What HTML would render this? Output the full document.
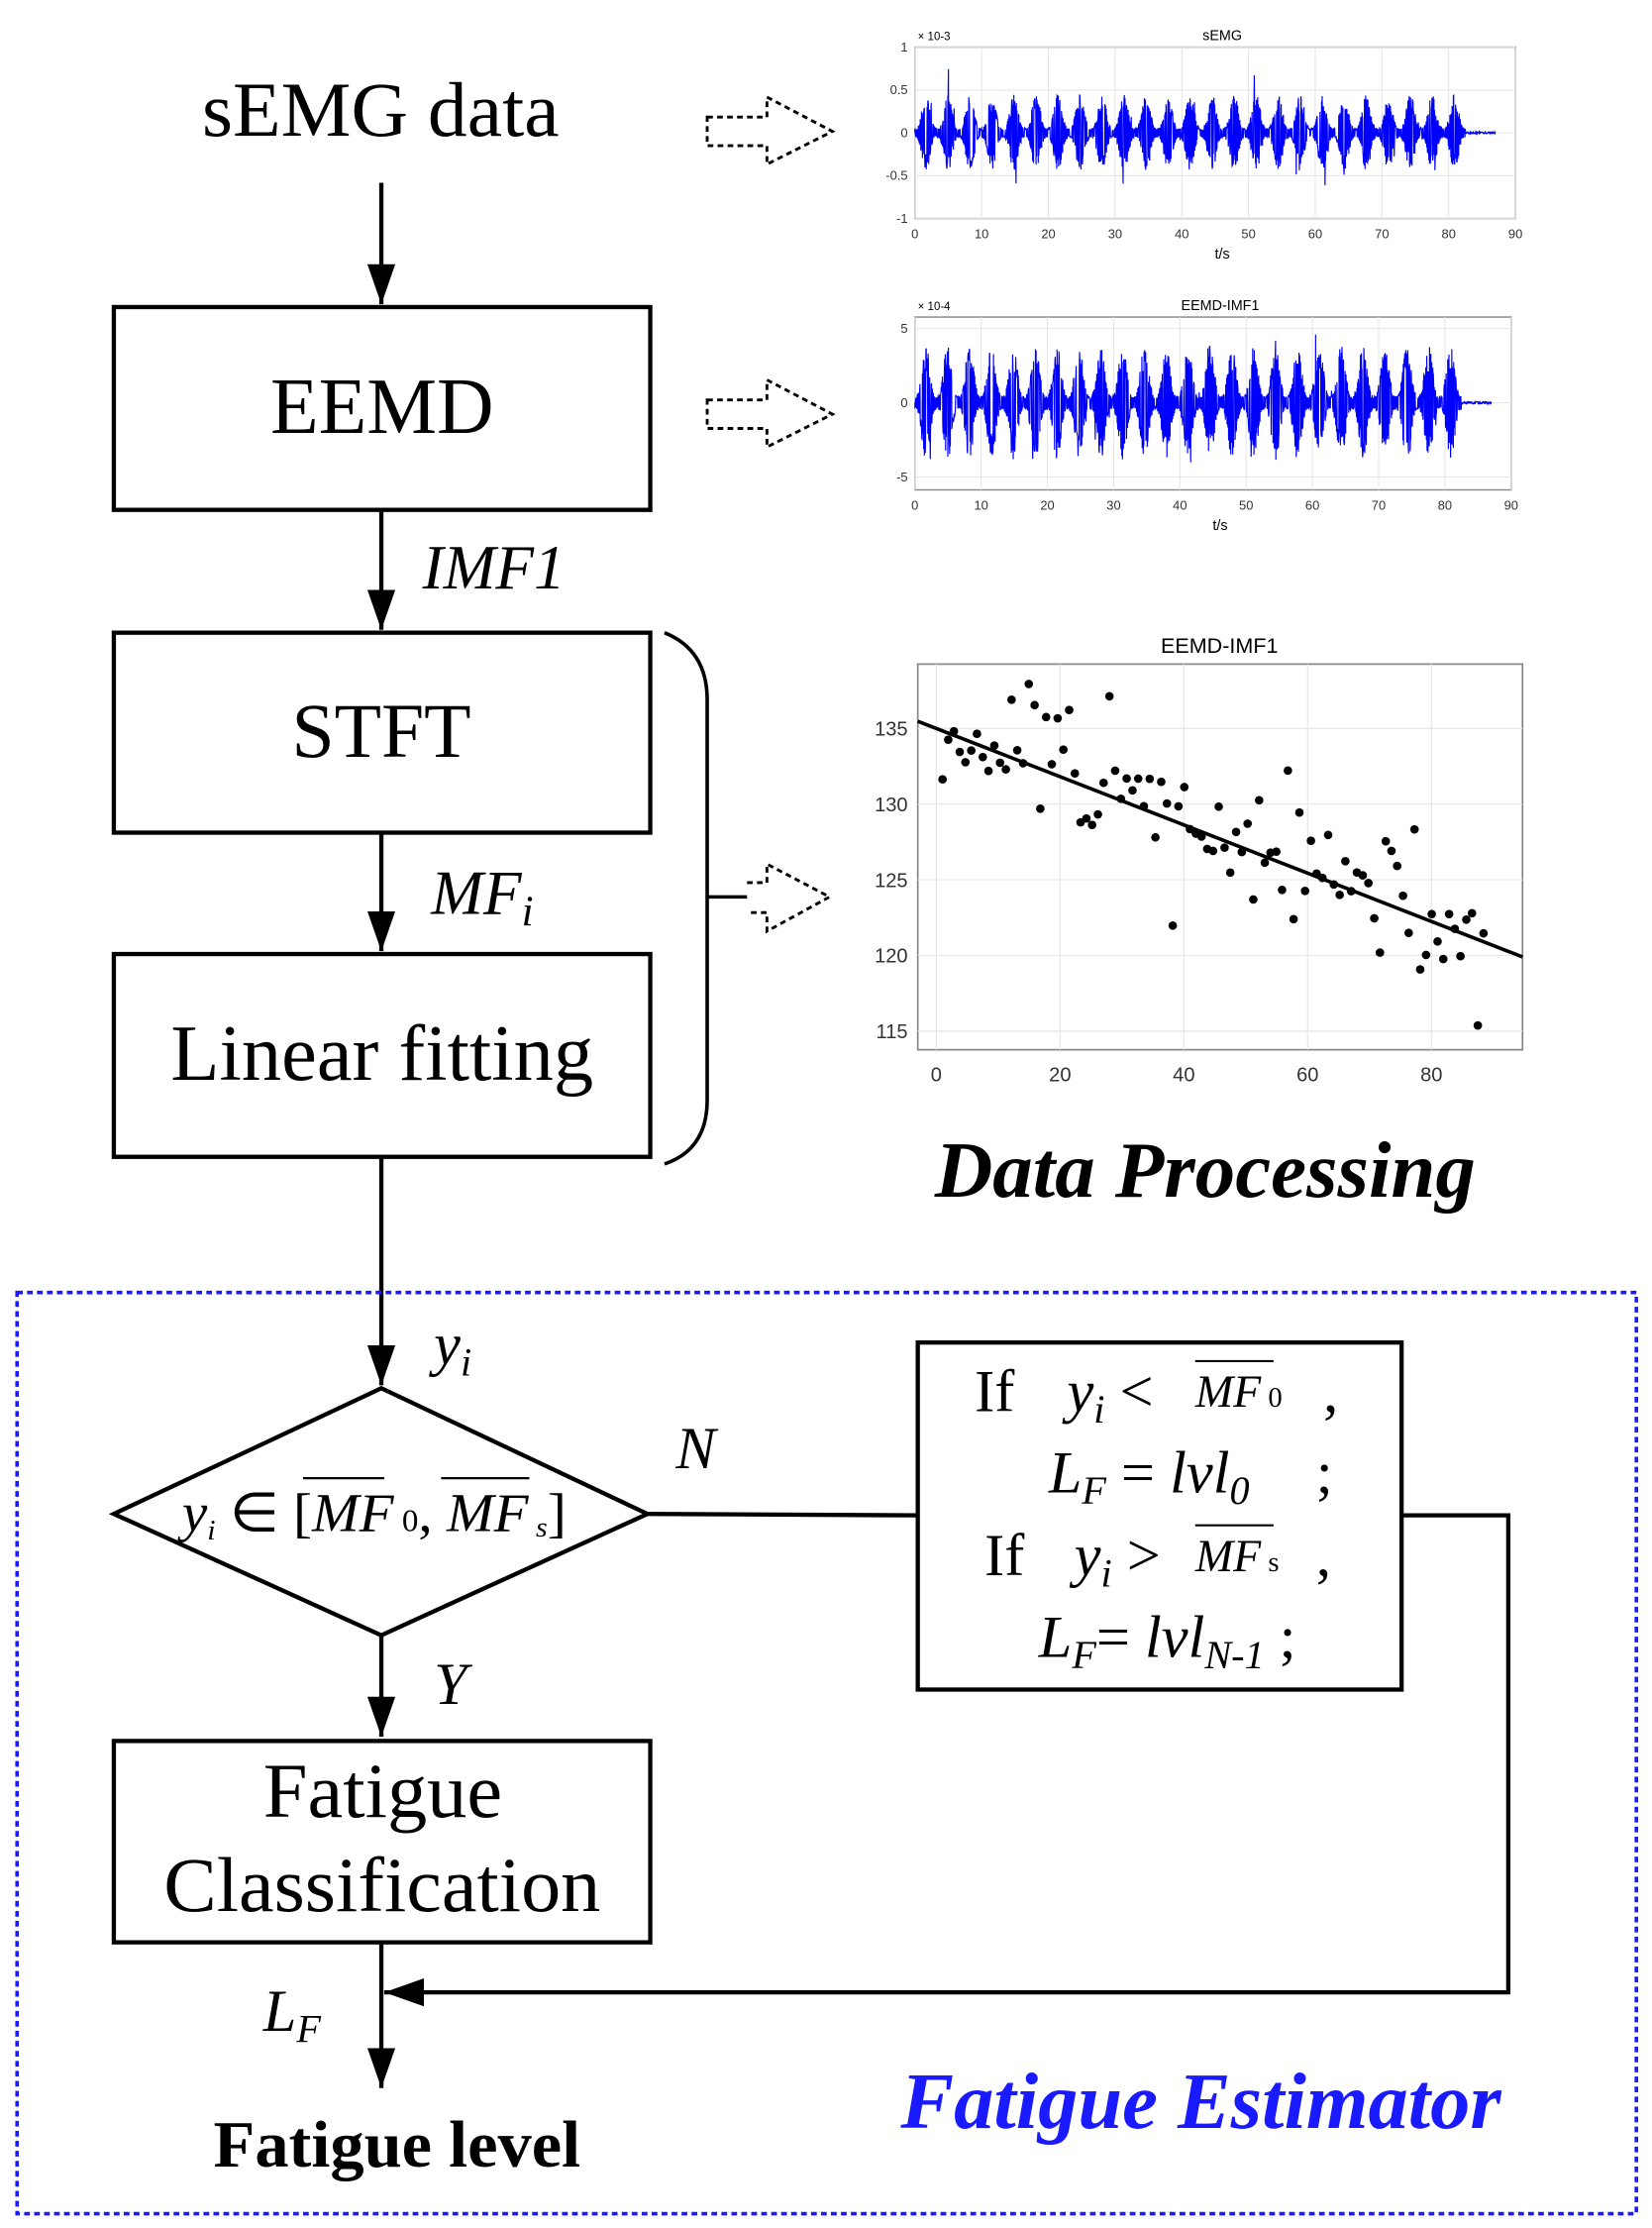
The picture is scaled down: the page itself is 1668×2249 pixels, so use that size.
<!DOCTYPE html>
<html><head><meta charset="utf-8"><style>
html,body{margin:0;padding:0;background:#fff}
svg{display:block}
.s{font-family:"Liberation Serif",serif}
.a{font-family:"Liberation Sans",sans-serif}
</style></head><body>
<svg id="svg" width="1668" height="2249" viewBox="0 0 1161 1560" preserveAspectRatio="none" xmlns="http://www.w3.org/2000/svg">
<defs>
<marker id="ah" viewBox="0 0 10 10" refX="10" refY="5" markerWidth="28" markerHeight="28" markerUnits="userSpaceOnUse" orient="auto"><path d="M0,1.5 L10,5 L0,8.5 z" fill="#000"/></marker>
</defs>
<rect width="1161" height="1560" fill="#fff"/>
<text class="s" x="142" y="95" font-size="54" textLength="251" lengthAdjust="spacingAndGlyphs">sEMG data</text>
<line x1="268" y1="128" x2="268" y2="213" stroke="#000" stroke-width="3" marker-end="url(#ah)"/>
<rect x="80" y="215" width="377" height="142" fill="none" stroke="#000" stroke-width="3"/>
<text class="s" x="190" y="303" font-size="56" textLength="157" lengthAdjust="spacingAndGlyphs">EEMD</text>
<line x1="268" y1="357" x2="268" y2="441" stroke="#000" stroke-width="3" marker-end="url(#ah)"/>
<text class="s" x="297" y="412" font-size="44" font-style="italic">IMF1</text>
<rect x="80" y="443" width="377" height="140" fill="none" stroke="#000" stroke-width="3"/>
<text class="s" x="268" y="530" font-size="54" text-anchor="middle">STFT</text>
<line x1="268" y1="583" x2="268" y2="666" stroke="#000" stroke-width="3" marker-end="url(#ah)"/>
<text class="s" x="303" y="640" font-size="44" font-style="italic">MF<tspan font-size="30" dy="8">i</tspan></text>
<rect x="80" y="668" width="377" height="142" fill="none" stroke="#000" stroke-width="3"/>
<text class="s" x="120" y="756" font-size="56" textLength="297" lengthAdjust="spacingAndGlyphs">Linear fitting</text>
<line x1="268" y1="810" x2="268" y2="970" stroke="#000" stroke-width="3" marker-end="url(#ah)"/>
<text class="s" x="305" y="955" font-size="42" font-style="italic">y<tspan font-size="28" dy="8">i</tspan></text>
<path d="M467,443 Q497,455 497,490 L497,770 Q497,805 467,815" fill="none" stroke="#000" stroke-width="2.5"/>
<line x1="497" y1="628" x2="525" y2="628" stroke="#000" stroke-width="2.5"/>
<g fill="none" stroke="#000" stroke-width="2" stroke-dasharray="4,3">
<path d="M497,82 L539,82 L539,68 L585,92 L539,115 L539,102 L497,102 Z"/>
<path d="M497,280 L539,280 L539,266 L585,290 L539,313 L539,300 L497,300 Z"/>
<path d="M525,618 L539,618 L539,605 L583,628 L539,652 L539,639 L525,639"/>
</g>
<g id="p1"></g>
<text class="s" x="657" y="838" font-size="56" font-weight="bold" font-style="italic" textLength="380" lengthAdjust="spacingAndGlyphs">Data Processing</text>
<rect x="12" y="905" width="1138" height="645" fill="none" stroke="#1a1aff" stroke-width="2.5" stroke-dasharray="4,3"/>
<path d="M268,972 L455,1060 L268,1145 L80,1060 Z" fill="none" stroke="#000" stroke-width="3"/>
<text class="s" x="128" y="1072" font-size="38" font-style="italic" textLength="270" lengthAdjust="spacingAndGlyphs">y<tspan font-size="20" dy="6">i</tspan><tspan dy="-6" font-style="normal"> ∈ [</tspan><tspan>MF</tspan><tspan font-size="22" font-style="normal"> 0</tspan><tspan font-style="normal">, </tspan><tspan>MF</tspan><tspan font-size="20" dy="4"> s</tspan><tspan dy="-4" font-style="normal">]</tspan></text>
<line x1="213" y1="1035" x2="270" y2="1035" stroke="#000" stroke-width="1.5"/>
<line x1="310" y1="1035" x2="372" y2="1035" stroke="#000" stroke-width="1.5"/>
<text class="s" x="475" y="1028" font-size="42" font-style="italic">N</text>
<line x1="455" y1="1060" x2="645" y2="1061" stroke="#000" stroke-width="3"/>
<rect x="645" y="940" width="340" height="243" fill="none" stroke="#000" stroke-width="3"/>
<g class="s" font-size="42" font-style="italic">
<text x="685" y="988"><tspan font-style="normal">If</tspan><tspan x="750">y</tspan><tspan font-size="28" dy="8">i</tspan><tspan dy="-8" font-style="normal"> &lt; </tspan></text>
<text x="840" y="985" font-size="32">MF<tspan font-size="20" font-style="normal"> 0</tspan></text>
<line x1="840" y1="953" x2="895" y2="953" stroke="#000" stroke-width="1.5"/>
<text x="930" y="988" font-style="normal">,</text>
<text x="737" y="1045">L<tspan font-size="28" dy="8">F</tspan><tspan dy="-8" font-style="normal"> = </tspan>lvl<tspan font-size="28" dy="8">0</tspan><tspan dy="-8" x="925" font-style="normal">;</tspan></text>
<text x="692" y="1103"><tspan font-style="normal">If</tspan><tspan x="755">y</tspan><tspan font-size="28" dy="8">i</tspan><tspan dy="-8" font-style="normal"> &gt; </tspan></text>
<text x="840" y="1100" font-size="32">MF<tspan font-size="20" font-style="normal"> s</tspan></text>
<line x1="840" y1="1068" x2="895" y2="1068" stroke="#000" stroke-width="1.5"/>
<text x="925" y="1103" font-style="normal">,</text>
<text x="730" y="1160">L<tspan font-size="28" dy="8">F</tspan><tspan dy="-8" font-style="normal">= </tspan>lvl<tspan font-size="28" dy="8">N-1</tspan><tspan dy="-8" font-style="normal"> ;</tspan></text>
</g>
<polyline points="985,1061 1060,1061 1060,1395 270,1395" fill="none" stroke="#000" stroke-width="3" marker-end="url(#ah)"/>
<line x1="268" y1="1145" x2="268" y2="1216" stroke="#000" stroke-width="3" marker-end="url(#ah)"/>
<text class="s" x="305" y="1193" font-size="42" font-style="italic">Y</text>
<rect x="80" y="1219" width="377" height="141" fill="none" stroke="#000" stroke-width="3"/>
<text class="s" x="185" y="1272" font-size="54" textLength="168" lengthAdjust="spacingAndGlyphs">Fatigue</text>
<text class="s" x="115" y="1338" font-size="54" textLength="307" lengthAdjust="spacingAndGlyphs">Classification</text>
<line x1="268" y1="1360" x2="268" y2="1462" stroke="#000" stroke-width="3" marker-end="url(#ah)"/>
<text class="s" x="185" y="1422" font-size="42" font-style="italic">L<tspan font-size="28" dy="8">F</tspan></text>
<text class="s" x="150" y="1517" font-size="46" font-weight="bold" textLength="258" lengthAdjust="spacingAndGlyphs">Fatigue level</text>
<text class="s" x="633" y="1490" font-size="56" font-weight="bold" font-style="italic" fill="#1a1aff" textLength="422" lengthAdjust="spacingAndGlyphs">Fatigue Estimator</text>
</svg>
<script>
(function(){
var NS="http://www.w3.org/2000/svg",g=document.getElementById("p1");
function el(t,a,txt){var e=document.createElementNS(NS,t);for(var k in a)e.setAttribute(k,a[k]);if(txt!=null)e.textContent=txt;g.appendChild(e);return e;}
var seed=7;function rnd(){seed=(seed*16807)%2147483647;return seed/2147483647;}
function sig(x0,x1,yt,yb,yc,amp,title,exp,yticks,ylabs){
 el("rect",{x:x0,y:yt,width:x1-x0,height:yb-yt,fill:"#fff",stroke:"#888","stroke-width":1});
 var w=x1-x0;
 for(var i=0;i<=9;i++){var x=x0+w*i/9;el("line",{x1:x,y1:yt,x2:x,y2:yb,stroke:"#e4e4e4","stroke-width":0.7});
  el("text",{x:x,y:yb+14,"font-size":9,"text-anchor":"middle",class:"a",fill:"#333"},String(i*10));}
 for(var j=0;j<yticks.length;j++){el("line",{x1:x0,y1:yticks[j],x2:x1,y2:yticks[j],stroke:"#e4e4e4","stroke-width":0.7});
  el("text",{x:x0-5,y:yticks[j]+3,"font-size":9,"text-anchor":"end",class:"a",fill:"#333"},ylabs[j]);}
 el("text",{x:(x0+x1)/2+5,y:yt-5,"font-size":10,"text-anchor":"middle",class:"a"},title);
 el("text",{x:x0+2,y:yt-5,"font-size":8,class:"a"},"× 10"+exp);
 el("text",{x:(x0+x1)/2+5,y:yb+28,"font-size":10,"text-anchor":"middle",class:"a"},"t/s");
 var d="M"+x0+","+yc,xe=x0+w*87/90,xs=x0+w*82.5/90;
 for(var x=x0;x<xe;x+=0.22){var t=(x-x0)/(xs-x0);var a;
  if(x>xs)a=0.02;else{var ph=(t*25)%1;a=0.12+0.88*Math.pow(Math.sin(Math.PI*ph),3);}
  var r=rnd()*2-1;var v=amp*a*(0.55*Math.sign(r)+0.45*r)*(rnd()<0.01?1.8:1);
  d+=" L"+x.toFixed(2)+","+(yc+v).toFixed(1);}
 el("path",{d:d,fill:"none",stroke:"#0000ff","stroke-width":0.8});
}
sig(643,1065,33,153,93,27,"sEMG","-3",[33,63,93,123,153],["1","0.5","0","-0.5","-1"]);
sig(643,1062,222,343,282,40,"EEMD-IMF1","-4",[230,282,334],["5","0","-5"]);
var X0=645,X1=1070,Y0=465,Y1=735;
el("rect",{x:X0,y:Y0,width:X1-X0,height:Y1-Y0,fill:"#fff",stroke:"#888","stroke-width":1.2});
function px(v){return 658+(v)*(87/20);} function py(v){return 510+(135-v)*10.6;}
for(var i=0;i<=4;i++){var x=px(i*20);el("line",{x1:x,y1:Y0,x2:x,y2:Y1,stroke:"#e6e6e6","stroke-width":0.8});
 el("text",{x:x,y:Y1+22,"font-size":14,"text-anchor":"middle",class:"a",fill:"#333"},String(i*20));}
for(var v=115;v<=135;v+=5){var y=py(v);el("line",{x1:X0,y1:y,x2:X1,y2:y,stroke:"#e6e6e6","stroke-width":0.8});
 el("text",{x:X0-7,y:y+5,"font-size":14,"text-anchor":"end",class:"a",fill:"#333"},String(v));}
el("text",{x:857,y:457,"font-size":15,"text-anchor":"middle",class:"a"},"EEMD-IMF1");
el("line",{x1:X0,y1:505,x2:X1,y2:670,stroke:"#000","stroke-width":2.5});
seed=11;
for(var k=0;k<95;k++){var xv=1+k*0.93;var base=135.5-xv*0.165;var yv=base+(rnd()+rnd()+rnd()-1.5)*5;
 if(yv>138.5)yv=138.5;if(yv<114.5)yv=114.5;
 el("circle",{cx:px(xv).toFixed(1),cy:py(yv).toFixed(1),r:3,fill:"#000"});}
})();
</script>
</body></html>
